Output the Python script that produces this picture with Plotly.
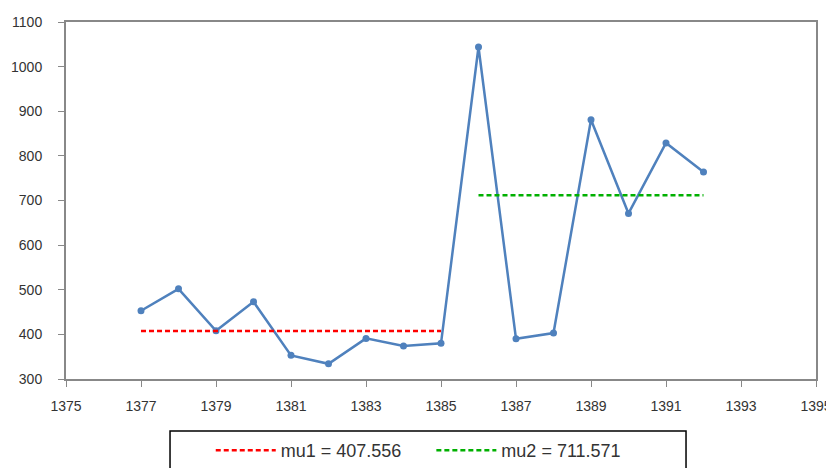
import plotly.graph_objects as go

years = [1377, 1378, 1379, 1380, 1381, 1382, 1383, 1384, 1385,
         1386, 1387, 1388, 1389, 1390, 1391, 1392]
values = [453, 502, 408, 473, 353, 334, 391, 374, 380,
          1044, 390, 403, 881, 671, 829, 764]
mu1_years = [1377, 1385]
mu1_vals = [407.556, 407.556]
mu2_years = [1386, 1392]
mu2_vals = [711.571, 711.571]

fig = go.Figure()
fig.add_trace(go.Scatter(x=years, y=values, mode="lines+markers",
                         line=dict(color="#4f81bd", width=2.5),
                         marker=dict(size=7, color="#4f81bd"),
                         showlegend=False))
fig.add_trace(go.Scatter(x=mu1_years, y=mu1_vals, mode="lines",
                         line=dict(color="#ff0000", width=2.5, dash="5px,3px"),
                         name="mu1 = 407.556     "))
fig.add_trace(go.Scatter(x=mu2_years, y=mu2_vals, mode="lines",
                         line=dict(color="#00b000", width=2.5, dash="5px,3px"),
                         name="mu2 = 711.571    "))

# legend frame (extends past the bottom edge like the reference)
fig.add_shape(type="rect", xref="paper", yref="paper",
              x0=0.1387, x1=0.8267, y0=-0.30, y1=-0.1457,
              line=dict(color="black", width=1.5), fillcolor="rgba(0,0,0,0)")

fig.update_layout(
    width=834, height=460,
    margin=dict(l=58, r=26, t=14, b=89),
    paper_bgcolor="white", plot_bgcolor="white",
    font=dict(family="Liberation Sans", size=14, color="#333"),
    xaxis=dict(range=[1375, 1395], tickvals=list(range(1375, 1396, 2)),
               showgrid=False, zeroline=False, showline=True, linecolor="#888",
               linewidth=2, ticks="outside", tickcolor="#888", ticklen=6,
               mirror=True, automargin=False, tickfont=dict(size=14),
               ticklabelstandoff=7),
    yaxis=dict(range=[300, 1100], dtick=100, showgrid=False, zeroline=False,
               showline=True, linecolor="#888", linewidth=2, ticks="outside",
               tickcolor="#888", ticklen=6, mirror=True, automargin=False,
               tickfont=dict(size=14), ticklabelstandoff=13),
    legend=dict(orientation="h", x=0.483, xanchor="center",
                yref="container", y=0.078, yanchor="top",
                borderwidth=0, font=dict(size=18), itemwidth=60,
                bgcolor="rgba(0,0,0,0)"),
)
fig.write_html("out.html")
